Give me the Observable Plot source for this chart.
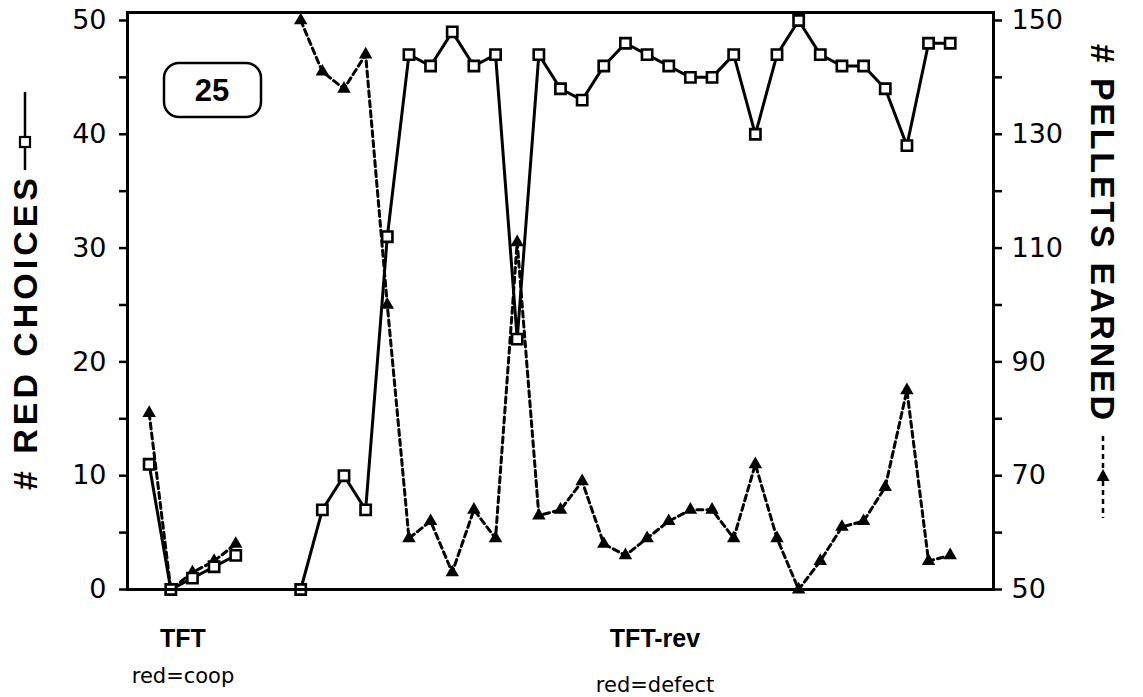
<!DOCTYPE html>
<html>
<head>
<meta charset="utf-8">
<script src="https://cdn.jsdelivr.net/npm/d3@7"></script>
<script src="https://cdn.jsdelivr.net/npm/@observablehq/plot@0.6"></script>
<style>
  html, body { margin: 0; padding: 0; background: #fff; }
  #chart svg { display: block; }
</style>
</head>
<body>
<div id="chart"></div>
<script>
// ---- data ----
const tftSessions = [1, 2, 3, 4, 5];
const tftRed      = [11, 0, 1, 2, 3];
const tftPellets  = [81, 50, 53, 55, 58];

const revSessions = [8, 9, 10, 11, 12, 13, 14, 15, 16, 17, 18, 19, 20, 21, 22, 23, 24, 25, 26, 27, 28, 29, 30, 31, 32, 33, 34, 35, 36, 37, 38];
const revRed      = [0, 7, 10, 7, 31, 47, 46, 49, 46, 47, 22, 47, 44, 43, 46, 48, 47, 46, 45, 45, 47, 40, 47, 50, 47, 46, 46, 44, 39, 48, 48];
const revPellets  = [150, 141, 138, 144, 100, 59, 62, 53, 64, 59, 111, 63, 64, 69, 58, 56, 59, 62, 64, 64, 59, 72, 59, 50, 55, 61, 62, 68, 85, 55, 56];

const conditionNames = ["TFT", "TFT-rev"];
const conditionNotes = ["red=coop", "red=defect"];
const leftTicks  = [0, 5, 10, 15, 20, 25, 30, 35, 40, 45, 50];   // # red choices
const pelletMin = 50, pelletPerChoice = 2;                        // right axis: 50..150
const subjectId = "25";
const leftTitle = "# RED CHOICES";
const rightTitle = "# PELLETS EARNED";

// ---- tables ----
const rows = [];
tftSessions.forEach((s, i) => rows.push({session: s, phase: conditionNames[0], red: tftRed[i], pellets: tftPellets[i]}));
revSessions.forEach((s, i) => rows.push({session: s, phase: conditionNames[1], red: revRed[i], pellets: revPellets[i]}));
rows.forEach(d => d.pelletsY = (d.pellets - pelletMin) / pelletPerChoice);

const FONT = "'DejaVu Sans', sans-serif";
const TITLEFONT = "'Liberation Sans', Arial, sans-serif";

const plot = Plot.plot({
  width: 1143,
  height: 697,
  marginLeft: 127,
  marginRight: 150,
  marginTop: 12,
  marginBottom: 108,
  style: {fontFamily: FONT, fontSize: "27px", background: "#fff", color: "#000"},
  x: {domain: [0, 40], axis: null},
  y: {domain: [0, 50.7], axis: null},
  marks: [
    Plot.axisY({anchor: "left", ticks: leftTicks, tickSize: 8, tickPadding: 13, strokeWidth: 2.5,
      tickFormat: d => d % 10 === 0 ? String(d) : "", label: null, fontSize: 27}),
    Plot.axisY({anchor: "right", ticks: leftTicks, tickSize: 8, tickPadding: 10, strokeWidth: 2.5,
      tickFormat: d => d % 10 === 0 ? String(pelletMin + pelletPerChoice * d) : "", label: null, fontSize: 27}),
    Plot.line(rows, {x: "session", y: "pelletsY", z: "phase", stroke: "#000", strokeWidth: 3, strokeDasharray: "6,4"}),
    Plot.line(rows, {x: "session", y: "red", z: "phase", stroke: "#000", strokeWidth: 3}),
    Plot.dot(rows, {x: "session", y: "pelletsY", symbol: "triangle", fill: "#000", r: 5}),
    Plot.dot(rows, {x: "session", y: "red", symbol: "square", fill: "#fff", stroke: "#000", strokeWidth: 2.6, r: 5.8}),
    Plot.frame({stroke: "#000", strokeWidth: 3})
  ]
});
document.getElementById("chart").appendChild(plot);

// ---- annotations ----
const svg = d3.select(plot);
const ns = svg.append("g").attr("fill", "#000").attr("text-anchor", "start");

// subject id box
ns.append("rect").attr("x", 164).attr("y", 63).attr("width", 97).attr("height", 54)
  .attr("rx", 15).attr("fill", "#fff").attr("stroke", "#000").attr("stroke-width", 2.5);
ns.append("text").attr("x", 212).attr("y", 101).attr("text-anchor", "middle")
  .attr("font-family", TITLEFONT).attr("font-weight", "bold").attr("font-size", 31)
  .text(subjectId);

// left title (reads bottom to top)
const lt = ns.append("g").attr("transform", "translate(25,490) rotate(-90)");
lt.append("text").attr("x", 0).attr("y", 0).attr("dy", "0.36em").attr("text-anchor", "start")
  .attr("font-family", TITLEFONT).attr("font-weight", "bold").attr("font-size", 34)
  .attr("textLength", 312).attr("lengthAdjust", "spacing").text(leftTitle);
ns.append("line").attr("x1", 25).attr("x2", 25).attr("y1", 92).attr("y2", 170).attr("stroke", "#000").attr("stroke-width", 2.5);
ns.append("rect").attr("x", 20).attr("y", 137).attr("width", 10).attr("height", 10)
  .attr("fill", "#fff").attr("stroke", "#000").attr("stroke-width", 2.2);

// right title (reads top to bottom)
const rt = ns.append("g").attr("transform", "translate(1103,44) rotate(90)");
rt.append("text").attr("x", 0).attr("y", 0).attr("dy", "0.36em").attr("text-anchor", "start")
  .attr("font-family", TITLEFONT).attr("font-weight", "bold").attr("font-size", 34)
  .attr("textLength", 376).attr("lengthAdjust", "spacing").text(rightTitle);
ns.append("line").attr("x1", 1103).attr("x2", 1103).attr("y1", 436).attr("y2", 518)
  .attr("stroke", "#000").attr("stroke-width", 2.5).attr("stroke-dasharray", "5,4");
ns.append("path").attr("d", "M1103,469 L1109.5,481 L1096.5,481 Z").attr("fill", "#000");

// condition labels under the x axis
const labelX = [183, 655];
const noteY = [683, 692];
conditionNames.forEach((name, i) => {
  ns.append("text").attr("x", labelX[i]).attr("y", 647).attr("text-anchor", "middle")
    .attr("font-family", TITLEFONT).attr("font-weight", "bold").attr("font-size", 25).text(name);
  ns.append("text").attr("x", labelX[i]).attr("y", noteY[i]).attr("text-anchor", "middle")
    .attr("font-family", FONT).attr("font-size", 21).text(conditionNotes[i]);
});
</script>
</body>
</html>
